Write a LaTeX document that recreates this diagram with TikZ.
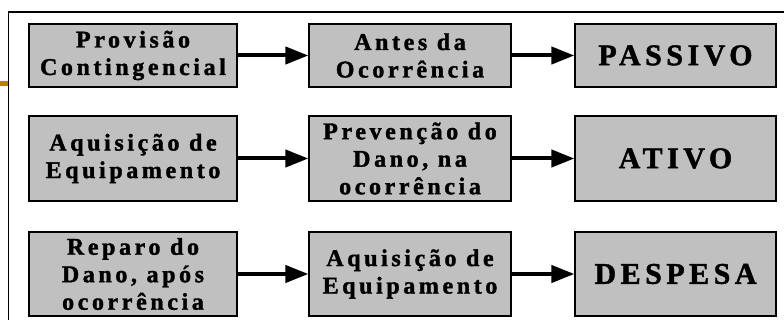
\documentclass[tikz,border=0pt]{standalone}
\usepackage{fontspec}
\usepackage{tikz}
\usetikzlibrary{arrows.meta, positioning}

\newfontfamily\boxfont{Liberation Serif}[UprightFont=* Bold, LetterSpace=15, FakeBold=1.5]
\definecolor{boxgray}{RGB}{192,192,192}
\definecolor{tickgold}{RGB}{184,128,0}

\begin{document}
\begin{tikzpicture}[
  x=1pt, y=-1pt,
  box/.style={draw, fill=boxgray, line width=1.2pt, inner sep=0pt, align=center,
    font=\boxfont\fontsize{24}{27.5}\selectfont},
  big/.style={box, font=\boxfont\fontsize{30}{34}\selectfont},
  seta/.style={line width=4pt, -{Triangle[length=23pt, width=17pt]}},
  col1/.style={minimum width=208pt},
  col2/.style={minimum width=202pt},
  col3/.style={minimum width=201pt}]

  \useasboundingbox (0,0) rectangle (784,320);

  % moldura
  \draw[line width=1.5pt] (784,12) -- (8.5,12) -- (8.5,321);
  \draw[tickgold, line width=5pt] (0,83.5) -- (7.5,83.5);

  % linha 1
  \node[box, col1, minimum height=63pt](prov) at (133,55.5) {Provisão\\Contingencial};
  \node[box, col2, minimum height=63pt](antes) at (410,55.5) {Antes da\\Ocorrência};
  \node[big, col3, minimum height=63pt](passivo) at (675.5,55.5) {PASSIVO};

  % linha 2
  \node[box, col1, minimum height=85pt](aquis) at (133,158.5) {Aquisição de\\Equipamento};
  \node[box, col2, minimum height=85pt](prev) at (410,158.5) {Prevenção do\\Dano, na\\ocorrência};
  \node[big, col3, minimum height=85pt](ativo) at (675.5,158.5) {ATIVO};

  % linha 3
  \node[box, col1, minimum height=84pt](reparo) at (133,274) {Reparo do\\Dano, após\\ocorrência};
  \node[box, col2, minimum height=84pt](equip) at (410,274) {Aquisição de\\Equipamento};
  \node[big, col3, minimum height=84pt](despesa) at (675.5,274) {DESPESA};

  \draw[seta] (prov) -- (antes);
  \draw[seta] (antes) -- (passivo);
  \draw[seta] (aquis) -- (prev);
  \draw[seta] (prev) -- (ativo);
  \draw[seta] (reparo) -- (equip);
  \draw[seta] (equip) -- (despesa);
\end{tikzpicture}
\end{document}
